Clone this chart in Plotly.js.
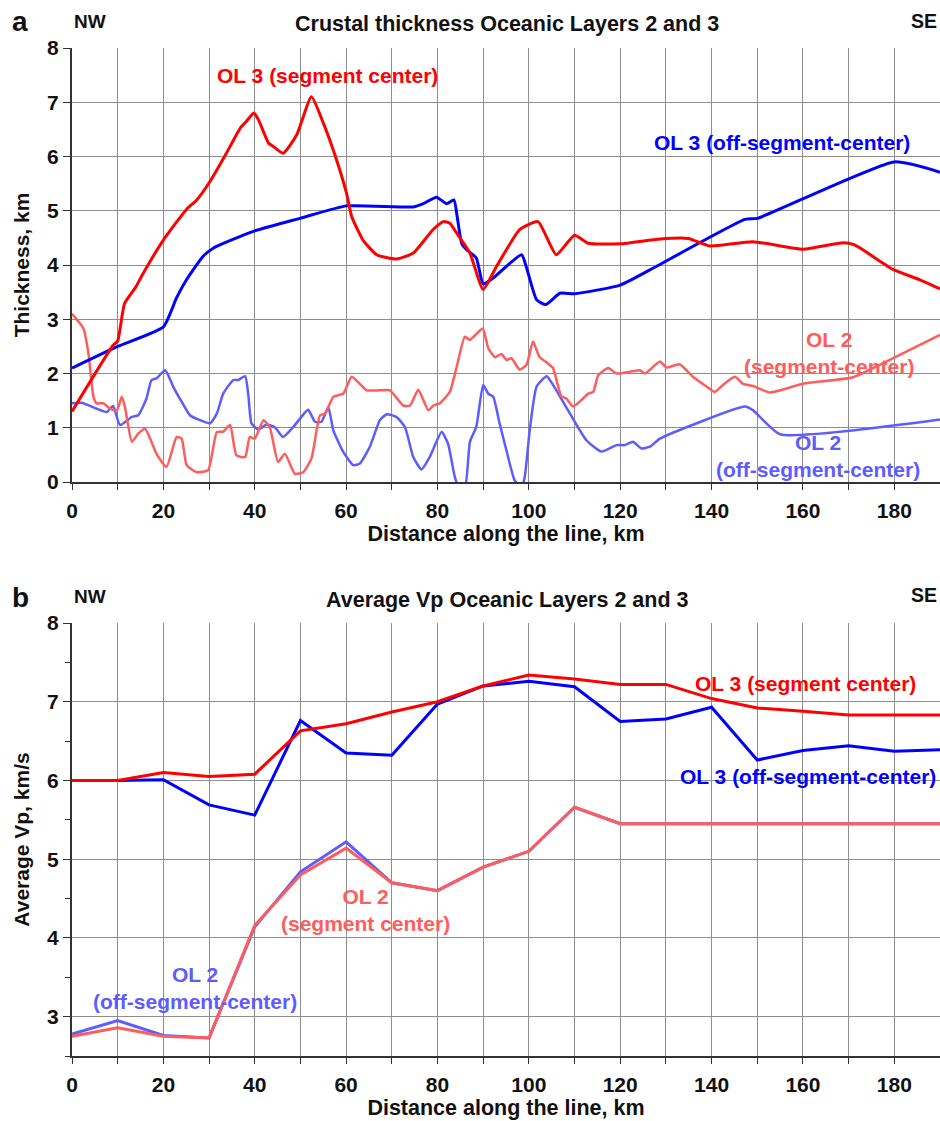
<!DOCTYPE html>
<html>
<head>
<meta charset="utf-8">
<script src="https://cdn.plot.ly/plotly-3.0.1.min.js"></script>
<style>html,body{margin:0;padding:0;background:#fff;}#chart{width:940px;height:1121px;}</style>
</head>
<body>
<div id="chart"></div>
<script>
// ---------- Panel a: crustal thickness (km) ----------
const ol3SegX_a = [0, 9, 10, 11.5, 14, 15.2, 20, 25, 27.3, 30.2, 33.8, 36.8, 38.2, 39.8, 40.8, 43, 44, 46.2, 49.2, 52.4, 55, 57.9, 60.1, 61.2, 63.7, 66.7, 71, 74.7, 79, 81.3, 82.7, 84.5, 87.1, 90, 92.9, 98, 102, 106, 110, 113, 120, 128.7, 134.9, 139.6, 149, 160, 168.8, 171.3, 179.7, 185.5, 190];
const ol3SegY_a = [1.3, 2.52, 2.6, 3.29, 3.6, 3.79, 4.46, 5.02, 5.2, 5.54, 6.06, 6.52, 6.65, 6.8, 6.68, 6.25, 6.19, 6.06, 6.4, 7.1, 6.62, 5.94, 5.32, 4.9, 4.46, 4.19, 4.11, 4.22, 4.65, 4.8, 4.77, 4.55, 4.22, 3.55, 3.97, 4.65, 4.8, 4.19, 4.55, 4.4, 4.39, 4.48, 4.49, 4.35, 4.43, 4.29, 4.41, 4.37, 3.92, 3.73, 3.56];

const ol3OffX_a = [0, 10, 20, 22.9, 25, 28.7, 30.9, 39.7, 49.9, 60.1, 74.7, 76.9, 79.8, 82, 83.6, 84.3, 85.3, 86.4, 88.5, 90, 92.2, 98.4, 99.5, 101.7, 103.7, 106.8, 110, 120, 126.5, 147.3, 150, 180, 190];
const ol3OffY_a = [2.1, 2.5, 2.86, 3.4, 3.72, 4.16, 4.31, 4.62, 4.86, 5.09, 5.07, 5.13, 5.25, 5.13, 5.2, 4.9, 4.4, 4.28, 4.13, 3.65, 3.76, 4.19, 3.95, 3.36, 3.27, 3.48, 3.47, 3.63, 3.91, 4.84, 4.86, 5.9, 5.71];

const ol2SegX_a = [0, 2.5, 3.6, 4.7, 5.4, 6.9, 8.3, 9.8, 10.9, 11.6, 13.1, 14.5, 16, 18.5, 20.7, 22.9, 24, 25.1, 27.3, 29.8, 31.7, 33.1, 34.6, 36, 37.9, 38.9, 40, 41.9, 43.3, 45.1, 46.6, 48.8, 50.6, 52.4, 54.3, 55.4, 57.2, 59.4, 61.2, 63, 64.5, 67.4, 69.6, 72.5, 74, 75.8, 78, 79.1, 80.5, 82.7, 84.2, 86, 87.1, 89.9, 91.1, 92.6, 94, 95.1, 96.2, 98, 99.5, 100.9, 102.3, 104.1, 105.3, 107.1, 108.2, 109.7, 111.5, 113, 114.1, 115.2, 117.4, 119.2, 122.1, 124.3, 125.4, 128.7, 130.1, 133, 135.9, 138.9, 140.7, 142.5, 145.1, 146.9, 149.1, 152.8, 160, 171, 176.8, 190];
const ol2SegY_a = [3.1, 2.83, 2.37, 1.57, 1.45, 1.45, 1.35, 1.32, 1.57, 1.38, 0.74, 0.89, 0.98, 0.52, 0.28, 0.83, 0.8, 0.31, 0.18, 0.22, 0.92, 0.93, 1.05, 0.49, 0.46, 0.83, 0.8, 1.14, 1.01, 0.37, 0.52, 0.15, 0.18, 0.43, 1.23, 1.26, 1.57, 1.63, 1.94, 1.81, 1.69, 1.69, 1.69, 1.41, 1.41, 1.70, 1.32, 1.41, 1.45, 1.66, 2.12, 2.68, 2.62, 2.83, 2.47, 2.3, 2.36, 2.25, 2.28, 2.07, 2.16, 2.59, 2.31, 2.19, 2.1, 1.58, 1.54, 1.39, 1.51, 1.63, 1.66, 1.97, 2.1, 2.0, 2.03, 2.06, 2.0, 2.22, 2.11, 2.17, 1.94, 1.76, 1.66, 1.79, 1.94, 1.81, 1.77, 1.65, 1.81, 1.93, 2.16, 2.71];

const ol2OffX_a = [0, 2.1, 5.4, 7.6, 9, 10.5, 13.1, 14.5, 16.3, 17.4, 18.5, 20.4, 22.2, 24, 25.8, 28, 30.2, 31.7, 33.1, 35.3, 36.4, 37.9, 38.6, 39.3, 40.8, 42.6, 44.4, 46.2, 48.4, 50.3, 51.7, 53.2, 54.6, 56.1, 57.2, 59.4, 61.6, 63, 65.2, 67.4, 68.9, 71, 72.9, 74.7, 76.5, 78.3, 80.9, 82.3, 83.8, 84.5, 86, 87.1, 88.5, 90, 91.1, 92.2, 93.6, 95.1, 96.9, 98.4, 99.1, 100.2, 101.7, 103.9, 105.3, 109, 112.6, 115.9, 119.2, 121, 122.8, 124.6, 126.5, 128.7, 147.3, 149.1, 155, 190];
const ol2OffY_a = [1.45, 1.46, 1.35, 1.29, 1.4, 1.05, 1.2, 1.23, 1.54, 1.88, 1.91, 2.06, 1.75, 1.48, 1.23, 1.14, 1.08, 1.26, 1.63, 1.88, 1.88, 1.95, 1.6, 1.08, 0.97, 1.06, 1.01, 0.83, 1.01, 1.21, 1.33, 1.11, 1.11, 1.38, 0.95, 0.55, 0.31, 0.34, 0.65, 1.14, 1.25, 1.2, 1.01, 0.46, 0.23, 0.46, 0.92, 0.71, 0.09, -0.06, -0.1, 0.74, 1.02, 1.79, 1.63, 1.57, 1.08, 0.58, 0.03, -0.09, 0.09, 0.96, 1.76, 1.95, 1.79, 1.26, 0.77, 0.56, 0.68, 0.68, 0.74, 0.62, 0.65, 0.8, 1.39, 1.32, 0.88, 1.15];

// ---------- Panel b: average Vp (km/s) ----------
const dist_b = [0, 10, 20, 30, 40, 50, 60, 70, 80, 90, 100, 110, 120, 130, 140, 150, 160, 170, 180, 190];
const ol3Seg_b = [6.0, 6.0, 6.1, 6.05, 6.08, 6.63, 6.72, 6.87, 7.0, 7.2, 7.34, 7.29, 7.22, 7.22, 7.04, 6.92, 6.88, 6.83, 6.83, 6.83];
const ol3Off_b = [6.0, 6.0, 6.01, 5.69, 5.56, 6.76, 6.35, 6.32, 6.97, 7.2, 7.26, 7.19, 6.75, 6.78, 6.93, 6.26, 6.38, 6.44, 6.37, 6.39];
const ol2Seg_b = [2.75, 2.86, 2.75, 2.73, 4.16, 4.8, 5.14, 4.7, 4.6, 4.9, 5.1, 5.66, 5.45, 5.45, 5.45, 5.45, 5.45, 5.45, 5.45, 5.45];
const ol2Off_b = [2.78, 2.95, 2.76, 2.73, 4.14, 4.84, 5.22, 4.7, 4.6, 4.9, 5.1, 5.66, 5.45, 5.45, 5.45, 5.45, 5.45, 5.45, 5.45, 5.45];

const xTicks = [0, 20, 40, 60, 80, 100, 120, 140, 160, 180];

const RED = '#ff0000', BLUE = '#0000ff', LRED = '#ff5c5c', LBLUE = '#5c5cff';
const FONT = 'Liberation Sans, Arial, Helvetica, sans-serif';
const GRID = '#8e8e8e';

function tr(x, y, color, width, xa, ya, spline) {
  return {x: x, y: y, type: 'scatter', mode: 'lines', xaxis: xa, yaxis: ya,
    line: {color: color, width: width, shape: spline ? 'spline' : 'linear', smoothing: 0.5},
    hoverinfo: 'skip', showlegend: false};
}

const data = [
  tr(ol2OffX_a, ol2OffY_a, LBLUE, 2.5, 'x', 'y', true),
  tr(ol2SegX_a, ol2SegY_a, LRED, 2.5, 'x', 'y', true),
  tr(ol3OffX_a, ol3OffY_a, BLUE, 3, 'x', 'y', true),
  tr(ol3SegX_a, ol3SegY_a, RED, 3, 'x', 'y', true),
  tr(dist_b, ol2Off_b, LBLUE, 3, 'x2', 'y2', false),
  tr(dist_b, ol2Seg_b, LRED, 3, 'x2', 'y2', false),
  tr(dist_b, ol3Off_b, BLUE, 3, 'x2', 'y2', false),
  tr(dist_b, ol3Seg_b, RED, 3, 'x2', 'y2', false)
];

function xax(anchor) {
  return {domain: [0, 1], anchor: anchor, range: [0, 190], tickvals: xTicks, ticktext: xTicks.map(String),
    ticks: 'outside', ticklen: 6, tickwidth: 1, tickcolor: '#333', ticklabelstandoff: 3,
    showgrid: true, gridcolor: GRID, gridwidth: 1, zeroline: false,
    minor: {dtick: 10, tick0: 0, showgrid: true, gridcolor: GRID, gridwidth: 1, ticks: 'outside', ticklen: 6, tickcolor: '#333'},
    showline: true, linecolor: '#333', linewidth: 2,
    tickfont: {family: FONT, size: 21, color: '#111', weight: 700},
    title: {text: 'Distance along the line, km', font: {family: FONT, size: 21.5, color: '#111', weight: 700}, standoff: 2},
    automargin: false, fixedrange: true};
}
function yax(anchor, domain, range, title, minor) {
  const a = {domain: domain, anchor: anchor, range: range, dtick: 1, tick0: 0,
    ticks: 'outside', ticklen: 7, tickwidth: 1, tickcolor: '#333',
    showgrid: true, gridcolor: GRID, gridwidth: 1, zeroline: false,
    showline: true, linecolor: '#333', linewidth: 2,
    tickfont: {family: FONT, size: 21, color: '#111', weight: 700},
    title: {text: title, font: {family: FONT, size: 21, color: '#111', weight: 700}, standoff: 12},
    automargin: false, fixedrange: true};
  if (minor) a.minor = {dtick: 0.5, ticks: 'outside', ticklen: 5, tickcolor: '#333', showgrid: false};
  return a;
}

function ann(x, y, text, color, xref, yref) {
  return {x: x, y: y, xref: xref, yref: yref, text: text, showarrow: false,
    font: {family: FONT, size: 21, color: color, weight: 700}, align: 'center'};
}
// place text by picture pixel (paper coords are relative to the plot area: l=72, width 868)
function pann(px, py, text, size, xanchor) {
  return {x: (px - 72) / 868, y: 1 - py / 1121, xref: 'paper', yref: 'paper', text: text, showarrow: false,
    xanchor: xanchor || 'center', yanchor: 'middle',
    font: {family: FONT, size: size, color: '#111', weight: 700}};
}

const layout = {
  width: 940, height: 1121,
  margin: {l: 72, r: 0, t: 0, b: 0, pad: 0},
  paper_bgcolor: '#fff', plot_bgcolor: '#fff',
  xaxis: xax('y'),
  yaxis: yax('x', [1 - 482 / 1121, 1 - 48 / 1121], [0, 8], 'Thickness, km', false),
  xaxis2: xax('y2'),
  yaxis2: yax('x2', [1 - 1056 / 1121, 1 - 623 / 1121], [2.5, 8], 'Average Vp, km/s', true),
  annotations: [
    pann(20, 21, 'a', 28),
    pann(72, 21, 'NW', 19, 'left'),
    pann(507, 24, 'Crustal thickness Oceanic Layers 2 and 3', 21.5),
    pann(939, 21, 'SE', 19.5, 'right'),
    pann(20, 597, 'b', 28),
    pann(72, 596, 'NW', 19, 'left'),
    pann(507, 600, 'Average Vp Oceanic Layers 2 and 3', 21.5),
    pann(939, 595, 'SE', 19.5, 'right'),
    ann(56, 7.5, 'OL 3 (segment center)', RED, 'x', 'y'),
    ann(155.4, 6.25, 'OL 3 (off-segment-center)', BLUE, 'x', 'y'),
    ann(165.6, 2.38, 'OL 2<br>(segment-center)', LRED, 'x', 'y'),
    ann(163.4, 0.48, 'OL 2<br>(off-segment-center)', LBLUE, 'x', 'y'),
    ann(160.6, 7.23, 'OL 3 (segment center)', RED, 'x2', 'y2'),
    ann(161, 6.05, 'OL 3 (off-segment-center)', BLUE, 'x2', 'y2'),
    ann(64.3, 4.35, 'OL 2<br>(segment center)', LRED, 'x2', 'y2'),
    ann(26.9, 3.36, 'OL 2<br>(off-segment-center)', LBLUE, 'x2', 'y2')
  ]
};

Plotly.newPlot('chart', data, layout, {staticPlot: true, displayModeBar: false});
</script>
</body>
</html>
